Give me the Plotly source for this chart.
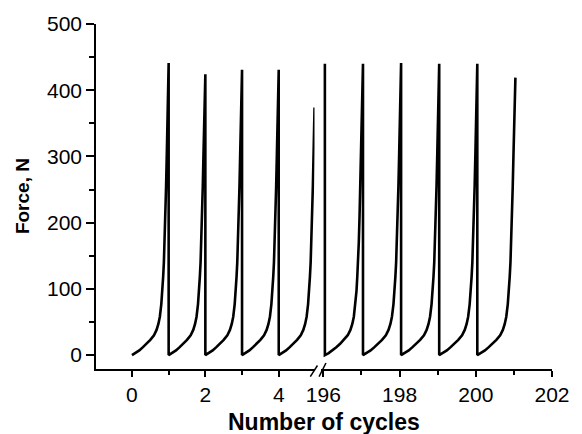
import plotly.graph_objects as go

# ---- data ----
# shared shape of one loading cycle (phase within cycle, force in N)
rise_phase = [0.0, 0.1, 0.2, 0.3, 0.4, 0.5, 0.6, 0.67, 0.72, 0.76, 0.8, 0.83,
              0.85, 0.87, 0.89, 0.91, 0.93, 0.95, 0.97]
rise_force = [0, 3, 7, 12, 17, 23, 30, 38, 47, 58, 77, 97,
              118, 140, 170, 210, 255, 305, 370]

# left part of the broken axis (cycles 0..5)
left_starts = [0, 1, 2, 3]
left_peaks = [441, 424, 431, 431]
left_last_start = 4          # cycle cut off by the axis break
left_cut = (4.976, 374)      # last visible point before the break

# right part of the broken axis (cycles 196..201)
right_entry_x = 196.04
right_entry_peak = 440
right_starts = [196.04, 197.04, 198.04, 199.04, 200.04]
right_peaks = [440, 441, 440, 440, 419]

left_ticks = [0, 2, 4]
right_ticks = [196, 198, 200, 202]
y_ticks = [0, 100, 200, 300, 400, 500]

# ---- build traces ----
def build(starts, peaks, entry=None, last_open=True):
    xs, ys = [], []
    if entry is not None:
        xs += [entry[0], entry[0]]
        ys += [entry[1], 0]
    for i, (s, pk) in enumerate(zip(starts, peaks)):
        xs += [s + p for p in rise_phase] + [s + 1]
        ys += list(rise_force) + [pk]
        if not (last_open and i == len(starts) - 1):
            xs.append(s + 1)
            ys.append(0)
    return xs, ys

lx, ly = build(left_starts, left_peaks, last_open=False)
lx += [left_last_start + p for p in rise_phase] + [left_cut[0]]
ly += list(rise_force) + [left_cut[1]]
rx, ry = build(right_starts, right_peaks, (right_entry_x, right_entry_peak))

FONT = "Liberation Sans, Arial, sans-serif"
line_style = dict(color="black", width=2.6)

fig = go.Figure()
fig.add_trace(go.Scatter(x=lx, y=ly, mode="lines", line=line_style,
                         xaxis="x", yaxis="y", showlegend=False))
fig.add_trace(go.Scatter(x=rx, y=ry, mode="lines", line=line_style,
                         xaxis="x2", yaxis="y", showlegend=False))

# plot area in screen pixels: x 96..562, y 24..369
W, H = 582, 434
PL, PR, PT, PB = 96, 562, 24, 369
L, R, T, B = PL, W - PR, PT, H - PB

def px(xs):
    return (xs - PL) / (PR - PL)

def py(ys):
    return (PB - ys) / (PB - PT)

axis_common = dict(
    showline=True, linecolor="black", linewidth=1.5,
    ticks="outside", ticklen=6, tickwidth=1.5, tickcolor="black",
    showgrid=False, zeroline=False,
    tickfont=dict(family=FONT, size=21, color="black"),
    minor=dict(ticks="outside", ticklen=4, tickwidth=1.5, tickcolor="black",
               dtick=1, showgrid=False),
)

fig.update_layout(
    width=W, height=H,
    margin=dict(l=L, r=R, t=T, b=B),
    paper_bgcolor="white", plot_bgcolor="white",
    xaxis=dict(domain=[0, px(319.3)], range=[-0.98, 4.975],
               tickmode="array", tickvals=left_ticks,
               ticktext=[str(v) for v in left_ticks],
               anchor="y", **axis_common),
    xaxis2=dict(domain=[px(326), 1], range=[195.94, 202],
                tickmode="array", tickvals=right_ticks,
                ticktext=[str(v) for v in right_ticks],
                anchor="y", **axis_common),
    yaxis=dict(range=[-21, 500], tickmode="array", tickvals=y_ticks,
               ticktext=[str(v) for v in y_ticks],
               showline=True, linecolor="black", linewidth=1.5,
               ticks="outside", ticklen=8, tickwidth=1.5, tickcolor="black",
               showgrid=False, zeroline=False,
               tickfont=dict(family=FONT, size=21, color="black"),
               minor=dict(ticks="outside", ticklen=5, tickwidth=1.5,
                          tickcolor="black", dtick=50, showgrid=False),
               anchor="x"),
    annotations=[
        dict(text="<b>Number of cycles</b>", xref="paper", yref="paper",
             x=0.5, y=py(422), xanchor="center", yanchor="middle",
             showarrow=False, font=dict(family=FONT, size=23, color="black")),
        dict(text="<b>Force, N</b>", xref="paper", yref="paper",
             x=px(21), y=0.5, xanchor="center", yanchor="middle",
             textangle=-90, showarrow=False,
             font=dict(family=FONT, size=19, color="black")),
    ],
    shapes=[
        dict(type="line", xref="paper", yref="paper",
             x0=px(315), y0=py(376.7), x1=px(322.3), y1=py(365.5),
             line=dict(color="black", width=1.5)),
        dict(type="line", xref="paper", yref="paper",
             x0=px(324), y0=py(376.7), x1=px(331), y1=py(363),
             line=dict(color="black", width=1.5)),
    ],
)

# remove the default page margin so the figure sits at the window's corner
fig.write_html(
    "out.html",
    config={"displayModeBar": False},
    post_script="document.body.style.margin='0px';"
                "document.body.style.overflow='hidden';",
)
